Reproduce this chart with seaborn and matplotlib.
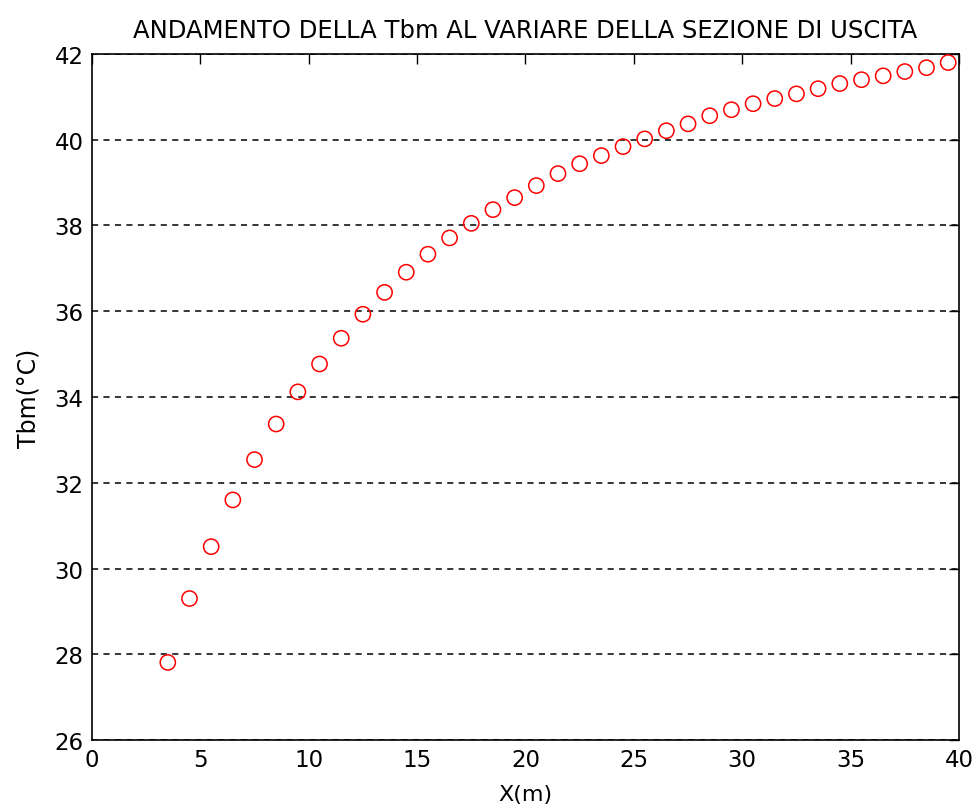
import matplotlib
matplotlib.use("Agg")
import matplotlib.pyplot as plt
import seaborn as sns
import pandas as pd
from matplotlib.ticker import MultipleLocator

x_m = [3.5, 4.5, 5.5, 6.5, 7.5, 8.5, 9.5, 10.5, 11.5, 12.5, 13.5, 14.5, 15.5,
       16.5, 17.5, 18.5, 19.5, 20.5, 21.5, 22.5, 23.5, 24.5, 25.5, 26.5, 27.5,
       28.5, 29.5, 30.5, 31.5, 32.5, 33.5, 34.5, 35.5, 36.5, 37.5, 38.5, 39.5]
tbm = [27.81, 29.30, 30.51, 31.60, 32.54, 33.37, 34.12, 34.77, 35.37, 35.93,
       36.44, 36.91, 37.33, 37.71, 38.05, 38.37, 38.65, 38.93, 39.21, 39.44,
       39.63, 39.84, 40.02, 40.21, 40.37, 40.56, 40.70, 40.84, 40.96, 41.07,
       41.19, 41.31, 41.40, 41.49, 41.59, 41.68, 41.80]

title = "ANDAMENTO DELLA Tbm AL VARIARE DELLA SEZIONE DI USCITA"
xlabel = "X(m)"
ylabel = "Tbm(°C)"

df = pd.DataFrame({"x": x_m, "y": tbm})

sns.set_style("white")
plt.rcParams['font.family'] = ['DejaVu Sans']
plt.rcParams['text.color'] = 'black'
plt.rcParams['axes.labelcolor'] = 'black'

fig = plt.figure(figsize=(9.78, 8.12), dpi=100)
ax = fig.add_axes([0.094, 0.0874, 0.8866, 0.8449])

sns.scatterplot(data=df, x="x", y="y", ax=ax, marker="o", s=120,
                facecolor="none", edgecolor="red", linewidth=1.1, zorder=3)

ax.set_xlim(0, 40)
ax.set_ylim(26, 42)
ax.xaxis.set_major_locator(MultipleLocator(5))
ax.yaxis.set_major_locator(MultipleLocator(2))
ax.yaxis.grid(True, linestyle=(0, (4, 3.5)), color="black", linewidth=1.1)
ax.xaxis.grid(False)
ax.tick_params(direction="in", top=True, right=True, length=7, width=1,
               labelsize=16.5, colors="black", pad=6)
for s in ax.spines.values():
    s.set_color("black")
    s.set_linewidth(1.2)

ax.set_title(title, fontsize=17.5, pad=12, color="black")
ax.set_xlabel(xlabel, fontsize=16, labelpad=9)
ax.set_ylabel(ylabel, fontsize=17, labelpad=10)

fig.savefig("out.png", dpi=100)
